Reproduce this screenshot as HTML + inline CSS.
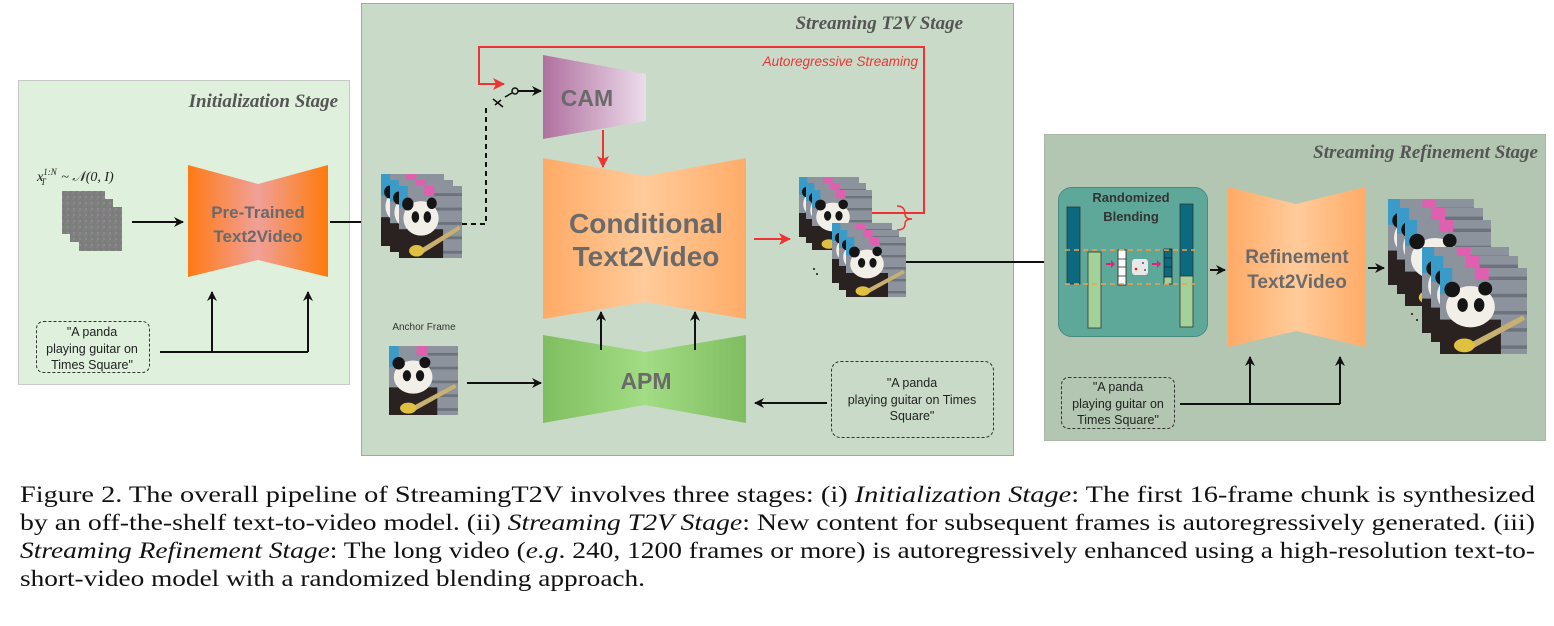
<!DOCTYPE html>
<html><head><meta charset="utf-8">
<style>
html,body{margin:0;padding:0;background:#fff;}
svg{display:block;}
</style></head>
<body>
<svg width="1554" height="626" viewBox="0 0 1554 626" xmlns="http://www.w3.org/2000/svg">
<defs>
<marker id="ab" markerWidth="10" markerHeight="10" refX="9" refY="5" orient="auto" markerUnits="userSpaceOnUse"><path d="M0,0 L10,5 L0,10 L3,5 z" fill="#111"/></marker>
<marker id="ar" markerWidth="12" markerHeight="12" refX="11" refY="6" orient="auto" markerUnits="userSpaceOnUse"><path d="M0,0 L12,6 L0,12 L3,6 z" fill="#ee3333"/></marker>
<linearGradient id="gOr" x1="0" x2="1"><stop offset="0" stop-color="#ff7a14"/><stop offset="0.5" stop-color="#f0a098"/><stop offset="1" stop-color="#ff7a0a"/></linearGradient>
<linearGradient id="gLo" x1="0" x2="1"><stop offset="0" stop-color="#ffaa66"/><stop offset="0.5" stop-color="#ffcb9a"/><stop offset="1" stop-color="#ffac68"/></linearGradient>
<linearGradient id="gCam" x1="0" x2="1"><stop offset="0" stop-color="#b0709f"/><stop offset="1" stop-color="#ecdcea"/></linearGradient>
<linearGradient id="gApm" x1="0" x2="1"><stop offset="0" stop-color="#7fbe60"/><stop offset="0.5" stop-color="#a2dc84"/><stop offset="1" stop-color="#80bd62"/></linearGradient>
<pattern id="noise" width="6" height="6" patternUnits="userSpaceOnUse"><rect width="6" height="6" fill="#7e7e7e"/><rect x="0" y="0" width="2" height="2" fill="#8a7f88"/><rect x="3" y="2" width="2" height="2" fill="#748070"/><rect x="1" y="4" width="2" height="2" fill="#8a8a90"/></pattern>
<symbol id="pf" viewBox="0 0 100 100" preserveAspectRatio="none">
<rect width="100" height="100" fill="#8d939c"/>
<rect x="40" y="10" width="60" height="4" fill="#6c737c"/><rect x="40" y="30" width="60" height="4" fill="#6c737c"/><rect x="40" y="50" width="60" height="4" fill="#6c737c"/><rect x="40" y="70" width="60" height="4" fill="#6c737c"/><rect x="40" y="90" width="60" height="4" fill="#6c737c"/>
<rect x="0" y="0" width="14" height="30" fill="#3a9ac8"/><rect x="40" y="0" width="16" height="14" fill="#e060b0"/>
<rect x="0" y="60" width="70" height="40" fill="#2a2220"/>
<ellipse cx="35" cy="45" rx="28" ry="24" fill="#f2efe8"/>
<circle cx="14" cy="25" r="9" fill="#151515"/><circle cx="52" cy="24" r="8" fill="#151515"/>
<ellipse cx="26" cy="43" rx="6" ry="8" fill="#151515"/><ellipse cx="45" cy="43" rx="6" ry="8" fill="#151515"/>
<path d="M20,95 L95,55 L98,60 L30,98 z" fill="#c8b070"/><ellipse cx="28" cy="90" rx="12" ry="8" fill="#e0c040"/>
</symbol>
</defs>

<!-- Init panel -->
<rect x="18.5" y="80.5" width="331" height="304" fill="#dff0dd" stroke="#c8c8c8"/>
<text x="338" y="107" text-anchor="end" font-family="Liberation Serif, serif" font-style="italic" font-weight="bold" font-size="19" fill="#555">Initialization Stage</text>
<text x="37" y="181" font-family="Liberation Serif, serif" font-style="italic" font-size="14" fill="#222">x<tspan font-size="9" dy="-6">1:N</tspan><tspan font-size="9" dx="-16" dy="10">T</tspan><tspan dy="-4" dx="12"> ~ 𝒩(0, I)</tspan></text>
<rect x="62" y="191" width="43" height="43" fill="url(#noise)"/>
<rect x="70" y="199" width="43" height="43" fill="url(#noise)"/>
<rect x="79" y="207" width="43" height="44" fill="url(#noise)"/>
<line x1="132" y1="222" x2="183" y2="222" stroke="#111" stroke-width="2" marker-end="url(#ab)"/>
<path d="M188,165 L258,184 L328,165 L328,277 L258,260 L188,277 z" fill="url(#gOr)"/>
<text x="258" y="218" text-anchor="middle" font-family="Liberation Sans, sans-serif" font-weight="bold" font-size="17" fill="#6a6a6a">Pre-Trained</text>
<text x="258" y="242" text-anchor="middle" font-family="Liberation Sans, sans-serif" font-weight="bold" font-size="17" fill="#6a6a6a">Text2Video</text>
<line x1="330" y1="222" x2="378" y2="222" stroke="#111" stroke-width="2" marker-end="url(#ab)"/>
<rect x="36.5" y="321.5" width="113" height="51" rx="7" fill="none" stroke="#333" stroke-dasharray="3,2"/>
<g font-family="Liberation Sans, sans-serif" font-size="12.5" fill="#222" text-anchor="middle"><text x="92" y="336">"A panda</text><text x="92" y="353">playing guitar on</text><text x="92" y="369">Times Square"</text></g>
<path d="M160,352 L308,352" stroke="#111" stroke-width="2" fill="none"/>
<line x1="212" y1="352" x2="212" y2="292" stroke="#111" stroke-width="2" marker-end="url(#ab)"/>
<line x1="308" y1="352" x2="308" y2="292" stroke="#111" stroke-width="2" marker-end="url(#ab)"/>

<!-- T2V panel -->
<rect x="361.5" y="3.5" width="652" height="452" fill="#c9dbc8" stroke="#c49a88"/>
<text x="963" y="29" text-anchor="end" font-family="Liberation Serif, serif" font-style="italic" font-weight="bold" font-size="19" fill="#555">Streaming T2V Stage</text>
<use href="#pf" x="381" y="174" width="63" height="72"/>
<use href="#pf" x="390" y="180" width="63" height="72"/>
<use href="#pf" x="399" y="186" width="63" height="72"/>
<path d="M462,224 L486,224 L486,108" stroke="#111" stroke-width="2" fill="none" stroke-dasharray="5,4"/>
<path d="M493,99 L503,107 M495,105 L501,100" stroke="#111" stroke-width="1.5"/>
<line x1="505" y1="97" x2="512" y2="93" stroke="#111" stroke-width="1.5"/>
<circle cx="515" cy="91" r="3" fill="none" stroke="#111" stroke-width="1.5"/>
<line x1="518" y1="91" x2="541" y2="91" stroke="#111" stroke-width="2" marker-end="url(#ab)"/>
<path d="M807,213 L924,213 L924,47 L479,47 L479,84 L504,84" stroke="#ee3333" stroke-width="2" fill="none" marker-end="url(#ar)"/>
<path d="M897,206 Q905,206 905,214 Q905,219 912,219 Q905,219 905,224 Q905,230 897,230" stroke="#ee3333" stroke-width="1.5" fill="none"/>
<text x="918" y="66" text-anchor="end" font-family="Liberation Sans, sans-serif" font-style="italic" font-size="13.5" fill="#ee3333">Autoregressive Streaming</text>
<path d="M543,55 L646,74 L646,121 L543,139 z" fill="url(#gCam)"/>
<text x="587" y="106" text-anchor="middle" font-family="Liberation Sans, sans-serif" font-weight="bold" font-size="23" fill="#6a6a6a">CAM</text>
<line x1="603" y1="130" x2="603" y2="167" stroke="#ee3333" stroke-width="2" marker-end="url(#ar)"/>
<path d="M543,158 L645,176 L746,158 L746,319 L645,302 L543,319 z" fill="url(#gLo)"/>
<text x="646" y="233" text-anchor="middle" font-family="Liberation Sans, sans-serif" font-weight="bold" font-size="28" fill="#6a6a6a">Conditional</text>
<text x="646" y="266" text-anchor="middle" font-family="Liberation Sans, sans-serif" font-weight="bold" font-size="28" fill="#6a6a6a">Text2Video</text>
<line x1="754" y1="239" x2="790" y2="239" stroke="#ee3333" stroke-width="2" marker-end="url(#ar)"/>
<use href="#pf" x="799" y="177" width="60" height="60"/>
<use href="#pf" x="806" y="183" width="60" height="60"/>
<use href="#pf" x="812" y="190" width="60" height="60"/>
<use href="#pf" x="832" y="223" width="60" height="60"/>
<use href="#pf" x="839" y="230" width="60" height="60"/>
<use href="#pf" x="846" y="237" width="60" height="60"/>
<circle cx="814" cy="269" r="1" fill="#111"/><circle cx="817" cy="274" r="1" fill="#111"/>
<line x1="906" y1="262" x2="1056" y2="262" stroke="#111" stroke-width="2" marker-end="url(#ab)"/>
<text x="424" y="330" text-anchor="middle" font-family="Liberation Sans, sans-serif" font-size="10" fill="#333">Anchor Frame</text>
<use href="#pf" x="389" y="346" width="69" height="69"/>
<line x1="467" y1="383" x2="541" y2="383" stroke="#111" stroke-width="2" marker-end="url(#ab)"/>
<path d="M543,335 L645,352 L746,335 L746,423 L645,405 L543,423 z" fill="url(#gApm)"/>
<text x="646" y="389" text-anchor="middle" font-family="Liberation Sans, sans-serif" font-weight="bold" font-size="23" fill="#6a6a6a">APM</text>
<line x1="601" y1="350" x2="601" y2="312" stroke="#111" stroke-width="2" marker-end="url(#ab)"/>
<line x1="695" y1="350" x2="695" y2="312" stroke="#111" stroke-width="2" marker-end="url(#ab)"/>
<rect x="831.5" y="361.5" width="162" height="76" rx="9" fill="none" stroke="#333" stroke-dasharray="3,2"/>
<g font-family="Liberation Sans, sans-serif" font-size="12.5" fill="#222" text-anchor="middle"><text x="912" y="387">"A panda</text><text x="912" y="404">playing guitar on Times</text><text x="912" y="420">Square"</text></g>
<line x1="827" y1="403" x2="755" y2="403" stroke="#111" stroke-width="2" marker-end="url(#ab)"/>

<!-- Refinement panel -->
<rect x="1044.5" y="134.5" width="501" height="306" fill="#b3c6b2" stroke="#a8b8a8"/>
<text x="1538" y="158" text-anchor="end" font-family="Liberation Serif, serif" font-style="italic" font-weight="bold" font-size="19" fill="#555">Streaming Refinement Stage</text>
<rect x="1058.5" y="187.5" width="149" height="149" rx="13" fill="#5ea89a" stroke="#4a8a80"/>
<text x="1131" y="202" text-anchor="middle" font-family="Liberation Sans, sans-serif" font-weight="bold" font-size="13" fill="#333">Randomized</text>
<text x="1131" y="221" text-anchor="middle" font-family="Liberation Sans, sans-serif" font-weight="bold" font-size="13" fill="#333">Blending</text>
<rect x="1067" y="207" width="13" height="77" fill="#0b6a80" stroke="#333" stroke-width="0.8"/>
<rect x="1088" y="252" width="13" height="76" fill="#a2d29a" stroke="#333" stroke-width="0.8"/>
<rect x="1180" y="204" width="13" height="72" fill="#0b6a80" stroke="#333" stroke-width="0.8"/>
<rect x="1180" y="276" width="13" height="51" fill="#a2d29a" stroke="#333" stroke-width="0.8"/>
<rect x="1118" y="250" width="8" height="35" fill="#fff" stroke="#222" stroke-width="0.8"/>
<path d="M1118,259 h8 M1118,267 h8 M1118,276 h8" stroke="#222" stroke-width="0.8"/>
<rect x="1164" y="249" width="8" height="28" fill="#0b6a80" stroke="#222" stroke-width="0.8"/>
<rect x="1164" y="277" width="8" height="7" fill="#a2d29a" stroke="#222" stroke-width="0.8"/>
<path d="M1164,258 h8 M1164,267 h8" stroke="#222" stroke-width="0.8"/>
<rect x="1132" y="259" width="16" height="16" rx="3" fill="#e8e8e8"/>
<circle cx="1136" cy="269" r="1.3" fill="#d22"/><circle cx="1143" cy="263" r="1" fill="#555"/><circle cx="1145" cy="270" r="1" fill="#555"/>
<path d="M1106,263 h5 v-3 l4,4 l-4,4 v-3 h-5 z" fill="#e0207a"/>
<path d="M1152,263 h5 v-3 l4,4 l-4,4 v-3 h-5 z" fill="#e0207a"/>
<line x1="1065" y1="250" x2="1195" y2="250" stroke="#f0a050" stroke-width="1.5" stroke-dasharray="5,4"/>
<line x1="1065" y1="284" x2="1195" y2="284" stroke="#f0a050" stroke-width="1.5" stroke-dasharray="5,4"/>
<line x1="1210" y1="270" x2="1225" y2="270" stroke="#111" stroke-width="2" marker-end="url(#ab)"/>
<path d="M1228,187 L1296,204 L1365,187 L1365,347 L1296,331 L1228,347 z" fill="url(#gLo)"/>
<text x="1297" y="263" text-anchor="middle" font-family="Liberation Sans, sans-serif" font-weight="bold" font-size="19" fill="#6a6a6a">Refinement</text>
<text x="1297" y="288" text-anchor="middle" font-family="Liberation Sans, sans-serif" font-weight="bold" font-size="19" fill="#6a6a6a">Text2Video</text>
<line x1="1368" y1="268" x2="1384" y2="268" stroke="#111" stroke-width="2" marker-end="url(#ab)"/>
<use href="#pf" x="1388" y="199" width="86" height="86"/>
<use href="#pf" x="1397" y="208" width="86" height="86"/>
<use href="#pf" x="1405" y="220" width="86" height="86"/>
<use href="#pf" x="1422" y="247" width="87" height="86"/>
<use href="#pf" x="1431" y="256" width="87" height="86"/>
<use href="#pf" x="1440" y="268" width="87" height="86"/>
<circle cx="1412" cy="314" r="1" fill="#111"/><circle cx="1417" cy="320" r="1" fill="#111"/>
<rect x="1061.5" y="377.5" width="113" height="51" rx="7" fill="none" stroke="#333" stroke-dasharray="3,2"/>
<g font-family="Liberation Sans, sans-serif" font-size="12.5" fill="#222" text-anchor="middle"><text x="1118" y="391">"A panda</text><text x="1118" y="408">playing guitar on</text><text x="1118" y="424">Times Square"</text></g>
<path d="M1180,404 L1340,404" stroke="#111" stroke-width="2"/>
<line x1="1250" y1="404" x2="1250" y2="357" stroke="#111" stroke-width="2" marker-end="url(#ab)"/>
<line x1="1340" y1="404" x2="1340" y2="357" stroke="#111" stroke-width="2" marker-end="url(#ab)"/>

<!-- Caption -->
<g font-family="Liberation Serif, serif" font-size="23" fill="#111">
<text x="20" y="502" textLength="1515" lengthAdjust="spacingAndGlyphs">Figure 2.  The overall pipeline of StreamingT2V involves three stages: (i) <tspan font-style="italic">Initialization Stage</tspan>: The first 16-frame chunk is synthesized</text>
<text x="20" y="530" textLength="1515" lengthAdjust="spacingAndGlyphs">by an off-the-shelf text-to-video model. (ii) <tspan font-style="italic">Streaming T2V Stage</tspan>: New content for subsequent frames is autoregressively generated. (iii)</text>
<text x="20" y="558" textLength="1515" lengthAdjust="spacingAndGlyphs"><tspan font-style="italic">Streaming Refinement Stage</tspan>: The long video (<tspan font-style="italic">e.g</tspan>. 240, 1200 frames or more) is autoregressively enhanced using a high-resolution text-to-</text>
<text x="20" y="586" textLength="625" lengthAdjust="spacingAndGlyphs">short-video model with a randomized blending approach.</text>
</g>
</svg>
</body></html>
